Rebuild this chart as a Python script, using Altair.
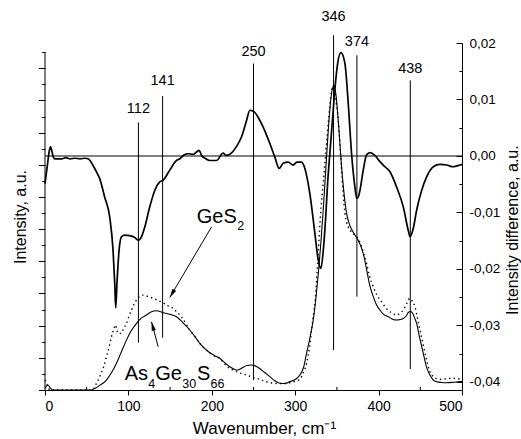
import math
import altair as alt
import pandas as pd

# ---------------- data ----------------
# difference spectrum (right axis)
diff_wn = [0, 3, 5, 6.8, 8.5, 10, 12, 20, 25, 30, 36, 42, 48, 51.6, 55, 58, 61.7, 65.6, 71.6, 77.6,
           81.6, 83.6, 84.8, 86.3, 88.8, 91.6, 95.6, 101.6, 107.6, 111.6, 115.7, 119.6, 125.6, 131.6,
           137.6, 141.6, 149.6, 157.6, 161.6, 167, 171.6, 177.6, 184.8, 187.7, 192, 197.6, 205.6,
           213.6, 217, 221.6, 229.7, 235.7, 241.7, 245.6, 248.5, 251.6, 255, 261.6, 269.6, 275.6,
           280.8, 285.6, 291.6, 297.6, 302, 307.6, 311.6, 317.6, 323.6, 327.5, 330.8, 333.5, 336.5,
           339, 341.6, 345, 348, 351, 354.8, 359.6, 363.6, 367.6, 371.6, 373.8, 375.8, 377.6, 381.6,
           385.6, 389.6, 395.6, 401.6, 407.6, 413.6, 421.6, 429.6, 435.6, 437.8, 441.6, 445.6, 451.6,
           457.6, 465.6, 473.6, 481.6, 489.6, 497.6, 500]
diff_val = [-0.0049, -0.0015, 0.0008, 0.0016, 0.0007, -0.0002, -0.0005, -0.0005, -0.0003, -0.0005,
            -0.0004, -0.0005, -0.0004, -0.0005, -0.0010, -0.0018, -0.0028, -0.0040, -0.0073, -0.0108,
            -0.0167, -0.0225, -0.0269, -0.0225, -0.0167, -0.0143, -0.0140, -0.0141, -0.0144, -0.0149,
            -0.0143, -0.0126, -0.0090, -0.0061, -0.0046, -0.0043, -0.0025, -0.0008, -0.0005, 0.0002,
            0.0004, 0.0003, 0.0010, 0.0001, -0.0004, -0.0008, -0.0008, 0.0005, 0.0001, 0.0003, 0.0017,
            0.0034, 0.0063, 0.0081, 0.0080, 0.0077, 0.0070, 0.0051, 0.0022, -0.0002, -0.0022, -0.0013,
            -0.0011, -0.0016, -0.0011, -0.0011, -0.0022, -0.0067, -0.0137, -0.0183, -0.0199, -0.0170,
            -0.0110, -0.0045, 0.0005, 0.0070, 0.0125, 0.0165, 0.0183, 0.0164, 0.0093, 0.0004, -0.0055,
            -0.0075, -0.0072, -0.0061, -0.0025, 0.0002, 0.0006, 0.0001, -0.0010, -0.0019, -0.0028,
            -0.0055, -0.0090, -0.0132, -0.0143, -0.0128, -0.0096, -0.0061, -0.0037, -0.0019, -0.0015,
            -0.0016, -0.0019, -0.0016, -0.0015]

# As4Ge30S66 spectrum (left axis, solid)
as_wn = [0, 2, 3.6, 6, 9, 20, 40, 55, 59.8, 66, 73.7, 80, 85.7, 91, 97.7, 103, 109.7, 115, 121.7, 127,
         133.7, 141.6, 150, 157.7, 165, 173.6, 180, 185.6, 191, 197.6, 203, 209.6, 215, 221.6, 229.6,
         233, 237.6, 242, 247.7, 252, 257, 263, 269.6, 275, 281.6, 287, 293.6, 300, 305.6, 310, 313.6,
         317.5, 321.6, 325, 328, 331, 334, 337, 340, 343, 346.4, 349, 352, 355, 358, 361.6, 365, 368,
         372, 375.6, 379, 382, 385.6, 389, 393.6, 397, 401.6, 406, 411.7, 416, 421.6, 426, 429.6, 433,
         435.6, 438.4, 441, 443, 445.6, 449, 453.6, 457, 461.6, 465, 469.6, 475, 481.6, 490, 497.6, 500]
as_val = [0.1, 0.25, 0.31, 0.15, 0.0, 0.0, 0.0, 0.0, 0.1, 0.3, 0.62, 1.1, 1.66, 2.3, 3.1, 3.65, 4.14,
          4.45, 4.66, 4.85, 4.93, 4.8, 4.7, 4.55, 4.2, 3.73, 3.3, 2.9, 2.6, 2.32, 2.15, 1.97, 1.72, 1.45,
          1.24, 1.28, 1.41, 1.52, 1.55, 1.5, 1.35, 1.1, 0.83, 0.6, 0.42, 0.4, 0.52, 0.65, 0.93, 1.4, 2.28,
          3.2, 4.35, 5.8, 7.4, 9.3, 11.5, 14.0, 16.4, 18.2, 18.94, 18.3, 16.5, 14.3, 12.5, 11.0, 10.3,
          9.95, 9.6, 9.3, 8.9, 8.4, 7.5, 6.6, 5.8, 5.35, 4.97, 4.7, 4.55, 4.42, 4.35, 4.38, 4.45, 4.6,
          4.82, 4.88, 4.75, 4.5, 4.14, 3.3, 2.28, 1.5, 0.93, 0.65, 0.52, 0.47, 0.45, 0.48, 0.52, 0.52]

# GeS2 spectrum (left axis, dotted)
ges_wn = [0, 2, 4, 6, 20, 40, 52, 57.6, 61, 65.6, 70, 73.7, 77, 79.7, 82, 84.8, 86, 87.6, 91.6, 94,
          97.7, 100.5, 103.7, 106.5, 109.7, 113, 117.6, 123, 129.6, 135, 141.6, 147, 153.6, 158, 163.6,
          173.6, 180, 185.6, 191, 197.6, 203, 209.6, 215, 221, 225.6, 233, 241.6, 247, 253.6, 257.6,
          265, 273, 280, 289.6, 297, 305.6, 309, 313.6, 317, 320, 324, 327, 330, 335, 340, 343.6, 345.6,
          348, 351.6, 355.6, 359.6, 363.6, 367, 371.6, 375.6, 379.6, 382, 385.6, 389, 393.6, 398,
          403.6, 408, 413.6, 417, 421.6, 426, 429.6, 433, 437.6, 440, 443.6, 446.5, 449.6, 453.5,
          457.6, 461, 465.6, 470, 475.6, 482, 489.6, 495, 500]
ges_val = [0.62, 0.4, 0.15, 0.0, 0.0, 0.0, 0.0, 0.04, 0.35, 0.83, 1.4, 2.07, 2.7, 3.31, 3.7, 4.04, 3.75,
           3.52, 3.52, 3.8, 4.14, 4.55, 4.97, 5.3, 5.59, 5.8, 5.9, 5.82, 5.7, 5.58, 5.42, 5.25, 5.07,
           4.85, 4.55, 3.73, 3.3, 2.9, 2.6, 2.32, 2.12, 1.95, 1.65, 1.35, 1.24, 1.07, 0.93, 0.82, 0.73,
           0.66, 0.52, 0.43, 0.4, 0.41, 0.5, 0.66, 1.0, 1.66, 2.6, 3.9, 5.6, 8.0, 10.6, 13.7, 16.8, 18.6,
           18.94, 18.3, 16.77, 13.7, 11.0, 10.14, 9.85, 9.63, 9.4, 8.9, 8.5, 7.87, 7.1, 6.42, 5.9, 5.48,
           5.15, 4.86, 4.75, 4.66, 4.8, 4.97, 5.3, 5.7, 5.55, 5.17, 4.5, 3.73, 2.8, 1.86, 1.2, 0.83, 0.7,
           0.66, 0.7, 0.73, 0.7, 0.66]

# marked band positions and their guide lines (left-axis units)
peak_wn = [112, 141, 250, 346, 374, 438]
peak_top = [16.63, 18.28, 20.29, 22.05, 20.81, 19.25]
peak_bottom = [2.94, 3.25, 0.62, 2.48, 5.80, 1.30]
peak_label_y = [17.19, 18.93, 20.79, 22.96, 21.41, 19.73]

# sample name annotations (letters and subscripts)
ann_text = ["GeS", "2", "As", "4", "Ge", "30", "S", "66"]
ann_wn = [182.0, 230.6, 95.6, 123.8, 132.2, 164.6, 182.2, 198.4]
ann_y = [10.37, 9.94, 0.62, 0.15, 0.62, 0.15, 0.62, 0.15]
ann_size = [20, 12.5, 20, 12.5, 20, 12.5, 20, 12.5]

# arrows: tail -> tip
arr_x1 = [199.7, 135.7]
arr_y1 = [10.14, 2.69]
arr_x2 = [149.6, 127.7]
arr_y2 = [5.75, 4.24]

x_major = list(range(0, 501, 100))
x_minor = list(range(50, 451, 100))
left_major = list(range(0, 21, 2))
left_minor = list(range(1, 22, 2))
right_major = [round(-0.04 + 0.01 * i, 2) for i in range(7)]
right_minor = [round(-0.035 + 0.01 * i, 3) for i in range(6)]

# ---------------- chart ----------------
W, H = 417, 347
X_DOM = [0, 500]
I_DOM = [0, 21.57]
D_DOM = [-0.04142, 0.02]
FONT = "Liberation Sans"
PX_PER_I = H / (I_DOM[1] - I_DOM[0])

xs = alt.Scale(domain=X_DOM, nice=False, zero=False)
ls = alt.Scale(domain=I_DOM, nice=False, zero=False)
rs = alt.Scale(domain=D_DOM, nice=False, zero=False)


def tick_axis(orient, values, size, offset=0):
    return alt.Axis(orient=orient, values=values, tickSize=size, offset=offset, labels=False,
                    domain=False, title=None, grid=False, tickColor="black", tickWidth=1)


# the same x axis definition is given to every layer so the shared axis merges cleanly
x_axis = alt.Axis(
    orient="bottom", values=x_major, tickSize=5,
    title="Wavenumber, cm⁻¹", titleX=219, titleY=43, titleBaseline="alphabetic",
    titleFontSize=17, titleFontWeight="normal", labelFontSize=14, labelPadding=4,
    grid=False, domainColor="black", tickColor="black", labelColor="black", titleColor="black",
    labelFont=FONT, titleFont=FONT,
)

l_axis = alt.Axis(
    orient="left", values=left_major, labels=False, domain=False, tickSize=6.5,
    title="Intensity, a.u.", titleX=-20, titleAngle=270, titleBaseline="alphabetic",
    titleFontSize=16, titleFontWeight="normal", grid=False, tickColor="black",
    titleColor="black", titleFont=FONT,
)
l_minor_axis = tick_axis("left", left_minor, 3.3)

r_axis = alt.Axis(
    orient="right", values=right_major, ticks=False, tickSize=0,
    labelExpr="replace(replace(format(datum.value, '.2f'), '.', ','), '\u2212', '-')",
    labelPadding=7, labelFontSize=13.5, labelFont=FONT, labelColor="black",
    title="Intensity difference, a.u.", titleX=55, titleY=186.6, titleAngle=270,
    titleBaseline="alphabetic", titleFontSize=16, titleFontWeight="normal", titleFont=FONT,
    titleColor="black", grid=False, domainColor="black",
)
r_major_in = tick_axis("left", right_major, 6, offset=-W)
r_minor_in = tick_axis("left", right_minor, 3, offset=-W)


def X(field):
    return alt.X(field, type="quantitative", scale=xs, axis=x_axis)


df_as = pd.DataFrame({"wn": as_wn, "I": as_val})
df_ges = pd.DataFrame({"wn": ges_wn, "I": ges_val})
df_diff = pd.DataFrame({"wn": diff_wn, "d": diff_val})
df_peaks = pd.DataFrame({"wn": peak_wn, "top": peak_top, "bottom": peak_bottom,
                         "ly": peak_label_y, "lab": [str(p) for p in peak_wn]})
df_ann = pd.DataFrame({"t": ann_text, "wn": ann_wn, "y": ann_y, "fs": ann_size})
df_xminor = pd.DataFrame({"wn": x_minor, "y1": [0.0] * len(x_minor),
                          "y2": [3.0 / PX_PER_I] * len(x_minor)})

# arrow head direction from the pixel geometry of each arrow
angles = []
for a, b, c, d in zip(arr_x1, arr_y1, arr_x2, arr_y2):
    dxp = (c - a) * W / (X_DOM[1] - X_DOM[0])
    dyp = -(d - b) * PX_PER_I
    angles.append(math.degrees(math.atan2(dxp, -dyp)) % 360)
df_arr = pd.DataFrame({"x1": arr_x1, "y1": arr_y1, "x2": arr_x2, "y2": arr_y2, "ang": angles})
df_ldom = pd.DataFrame({"x": [0], "y1": [0], "y2": [21]})
df_zero = pd.DataFrame({"x1": [0], "x2": [500], "d": [0.0]})

as_line = alt.Chart(df_as).mark_line(color="black", strokeWidth=1.1, interpolate="monotone").encode(
    x=X("wn"),
    y=alt.Y("I:Q", scale=ls, axis=l_axis),
)
ges_line = alt.Chart(df_ges).mark_line(color="black", strokeWidth=1.4, strokeDash=[1.4, 3.2],
                                       interpolate="monotone").encode(
    x=X("wn"),
    y=alt.Y("I:Q", scale=ls, axis=l_minor_axis),
)
peak_rules = alt.Chart(df_peaks).mark_rule(color="black", strokeWidth=1).encode(
    x=X("wn"),
    y=alt.Y("top:Q", scale=ls, axis=None),
    y2="bottom:Q",
)
peak_text = alt.Chart(df_peaks).mark_text(font=FONT, fontSize=14.5, color="black",
                                          align="center", baseline="alphabetic").encode(
    x=X("wn"),
    y=alt.Y("ly:Q", scale=ls, axis=None),
    text="lab:N",
)
ldom = alt.Chart(df_ldom).mark_rule(color="black", strokeWidth=1).encode(
    x=X("x"),
    y=alt.Y("y1:Q", scale=ls, axis=None),
    y2="y2:Q",
)
xminor = alt.Chart(df_xminor).mark_rule(color="black", strokeWidth=1).encode(
    x=X("wn"),
    y=alt.Y("y1:Q", scale=ls, axis=None),
    y2="y2:Q",
)
arr_lines = alt.Chart(df_arr).mark_rule(color="black", strokeWidth=1).encode(
    x=X("x1"),
    y=alt.Y("y1:Q", scale=ls, axis=None),
    x2="x2:Q", y2="y2:Q",
)
arr_heads = alt.Chart(df_arr).mark_point(
    shape="M0,0L-0.24,1L0.24,1Z", filled=True, color="black", opacity=1, size=320,
).encode(
    x=X("x2"),
    y=alt.Y("y2:Q", scale=ls, axis=None),
    angle=alt.Angle("ang:Q", scale=None),
)
ann = alt.Chart(df_ann).mark_text(font=FONT, color="black", align="left", baseline="alphabetic").encode(
    x=X("wn"),
    y=alt.Y("y:Q", scale=ls, axis=None),
    text="t:N",
    size=alt.Size("fs:Q", scale=None, legend=None),
)
zero = alt.Chart(df_zero).mark_rule(color="black", strokeWidth=1).encode(
    x=X("x1"),
    x2="x2:Q",
    y=alt.Y("d:Q", scale=rs, axis=r_major_in),
)
zero_ticks = alt.Chart(df_zero).mark_rule(opacity=0).encode(
    x=X("x1"),
    x2="x2:Q",
    y=alt.Y("d:Q", scale=rs, axis=r_minor_in),
)
diff_line = alt.Chart(df_diff).mark_line(color="black", strokeWidth=1.7, interpolate="monotone").encode(
    x=X("wn"),
    y=alt.Y("d:Q", scale=rs, axis=r_axis),
)

# every layer carries the same explicit y domain for its axis side, so
# independent y scales map identically
chart = alt.layer(
    as_line, ges_line, peak_rules, peak_text, ldom, xminor, arr_lines, arr_heads, ann,
    zero, zero_ticks, diff_line,
).resolve_scale(y="independent").properties(
    width=W, height=H,
    autosize=alt.AutoSizeParams(type="none"),
    padding={"left": 45, "top": 43, "right": 59, "bottom": 49},
    background="white",
).configure_view(stroke=None)

chart.save("out.html", embed_options={"renderer": "svg", "actions": False})
